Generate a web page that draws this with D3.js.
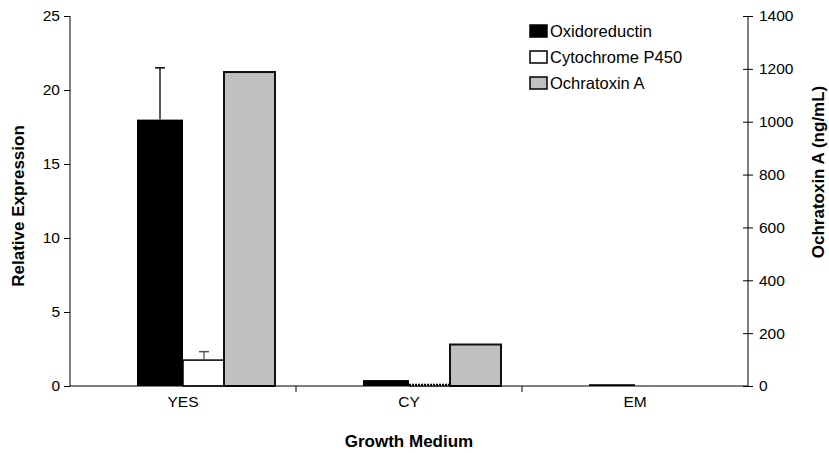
<!DOCTYPE html>
<html>
<head>
<meta charset="utf-8">
<script src="https://cdn.jsdelivr.net/npm/d3@7"></script>
<style>
  body { margin: 0; background: #fff; }
  text { font-family: Arial, "Liberation Sans", sans-serif; }
</style>
</head>
<body>
<div id="container"></div>
<script>
let w = 829;
let h = 453;

// DATA
let categories = ["YES", "CY", "EM"];
let oxidoreductin = [18, 0.4, 0.12];
let oxidoreductinErr = [3.5, 0, 0];
let cytochrome = [1.75, 0.1, 0];
let cytochromeErr = [0.57, 0, 0];
let ochratoxin = [1188, 157, 0];
let leftTicks = [0, 5, 10, 15, 20, 25];
let rightTicks = [0, 200, 400, 600, 800, 1000, 1200, 1400];
let seriesNames = ["Oxidoreductin", "Cytochrome P450", "Ochratoxin A"];

let plotLeft = 70, plotRight = 748, plotTop = 16, plotBottom = 386;

let viz = d3.select("#container").append("svg")
    .attr("width", w)
    .attr("height", h)
    .style("background-color", "white");

// SCALES
let x = d3.scaleBand().domain(categories).range([plotLeft, plotRight]).padding(0);
let xPrimary = d3.scaleBand().domain(seriesNames.slice(0, 2)).range([67, 159]);
let y = d3.scaleLinear().domain([0, 25]).range([plotBottom, plotTop]);
let y2 = d3.scaleLinear().domain([0, 1400]).range([plotBottom, plotTop]);
let grayOffset = 154, grayWidth = 51;

// BARS
let groups = viz.append("g").selectAll("g").data(categories).enter()
  .append("g")
    .attr("transform", function(d){ return "translate(" + x(d) + ",0)"; });

groups.append("rect")
  .attr("x", xPrimary("Oxidoreductin"))
  .attr("width", xPrimary.bandwidth())
  .attr("y", function(d,i){ return y(oxidoreductin[i]); })
  .attr("height", function(d,i){ return plotBottom - y(oxidoreductin[i]); })
  .attr("fill", "black");

groups.append("rect")
  .attr("x", xPrimary("Cytochrome P450"))
  .attr("width", xPrimary.bandwidth() - 5)
  .attr("y", function(d,i){ return y(cytochrome[i]); })
  .attr("height", function(d,i){ return plotBottom - y(cytochrome[i]); })
  .attr("fill", "white")
  .attr("stroke", function(d,i){ return cytochrome[i] > 0 ? "black" : "none"; })
  .attr("stroke-width", 1.5)
  .attr("stroke-dasharray", function(d,i){ return cytochrome[i] < 0.2 ? "2,1" : null; });

groups.append("rect")
  .attr("x", grayOffset)
  .attr("width", grayWidth)
  .attr("y", function(d,i){ return y2(ochratoxin[i]); })
  .attr("height", function(d,i){ return plotBottom - y2(ochratoxin[i]); })
  .attr("fill", "#c0c0c0")
  .attr("stroke", function(d,i){ return ochratoxin[i] > 0 ? "#111" : "none"; })
  .attr("stroke-width", 2);

// ERROR BARS (plus side only)
function errorBar(sel, vals, errs, name, color) {
  let cx = xPrimary(name) + xPrimary.bandwidth() / 2 - (name == "Cytochrome P450" ? 2 : 0);
  let eb = sel.filter(function(d,i){ return errs[i] > 0; });
  eb.append("line")
    .attr("x1", cx).attr("x2", cx)
    .attr("y1", function(d){ let i = categories.indexOf(d); return y(vals[i]); })
    .attr("y2", function(d){ let i = categories.indexOf(d); return y(vals[i] + errs[i]); })
    .attr("stroke", color).attr("stroke-width", 1.3);
  eb.append("line")
    .attr("x1", cx - 5).attr("x2", cx + 5)
    .attr("y1", function(d){ let i = categories.indexOf(d); return y(vals[i] + errs[i]); })
    .attr("y2", function(d){ let i = categories.indexOf(d); return y(vals[i] + errs[i]); })
    .attr("stroke", color).attr("stroke-width", 1.5);
}
errorBar(groups, oxidoreductin, oxidoreductinErr, "Oxidoreductin", "black");
errorBar(groups, cytochrome, cytochromeErr, "Cytochrome P450", "#555");

// AXES
let leftAxis = viz.append("g")
  .attr("transform", "translate(" + plotLeft + ",0)")
  .call(d3.axisLeft(y).tickValues(leftTicks).tickSize(6).tickPadding(4).tickFormat(d3.format("d")));

let rightAxis = viz.append("g")
  .attr("transform", "translate(" + plotRight + ",0)")
  .call(d3.axisRight(y2).tickValues(rightTicks).tickSize(5).tickPadding(6).tickFormat(d3.format("d")));
rightAxis.selectAll(".tick line").attr("x1", -5);

let bottomAxis = viz.append("g")
  .attr("transform", "translate(0," + plotBottom + ")")
  .call(d3.axisBottom(x).tickSize(0).tickPadding(10));
bottomAxis.selectAll(".tick line").remove();
bottomAxis.selectAll(".tick-bound").data(categories.slice(1)).enter()
  .append("line")
    .attr("x1", function(d){ return x(d); })
    .attr("x2", function(d){ return x(d); })
    .attr("y1", 0).attr("y2", 6)
    .attr("stroke", "black");

[leftAxis, rightAxis, bottomAxis].forEach(function(a){
  a.select(".domain").attr("stroke", "black");
  a.selectAll(".tick line").attr("stroke", "black");
  a.selectAll("text").attr("font-size", 15.5).attr("fill", "black")
    .style("font-family", "Arial, 'Liberation Sans', sans-serif");
});
leftAxis.select(".domain").attr("d", "M0," + plotBottom + "V" + plotTop);
rightAxis.select(".domain").attr("d", "M0," + plotBottom + "V" + plotTop);
bottomAxis.select(".domain").attr("d", "M" + plotLeft + ",0H" + plotRight);

// AXIS TITLES
viz.append("text")
  .attr("transform", "translate(24,206) rotate(-90)")
  .attr("text-anchor", "middle")
  .attr("font-size", 17).attr("font-weight", "bold")
  .text("Relative Expression");

viz.append("text")
  .attr("transform", "translate(824,172) rotate(-90)")
  .attr("text-anchor", "middle")
  .attr("font-size", 17).attr("font-weight", "bold")
  .text("Ochratoxin A (ng/mL)");

viz.append("text")
  .attr("x", 409).attr("y", 447)
  .attr("text-anchor", "middle")
  .attr("font-size", 17).attr("font-weight", "bold")
  .text("Growth Medium");

// LEGEND
let legendFill = ["black", "white", "#c0c0c0"];
let legend = viz.append("g").selectAll("g").data(seriesNames).enter()
  .append("g")
    .attr("transform", function(d,i){ return "translate(530," + (25 + i * 26) + ")"; });
legend.append("rect")
  .attr("width", 17).attr("height", 12)
  .attr("fill", function(d,i){ return legendFill[i]; })
  .attr("stroke", "black").attr("stroke-width", 1.5);
legend.append("text")
  .attr("x", 20).attr("y", 12)
  .attr("font-size", 16.5)
  .text(function(d){ return d; });
</script>
</body>
</html>
